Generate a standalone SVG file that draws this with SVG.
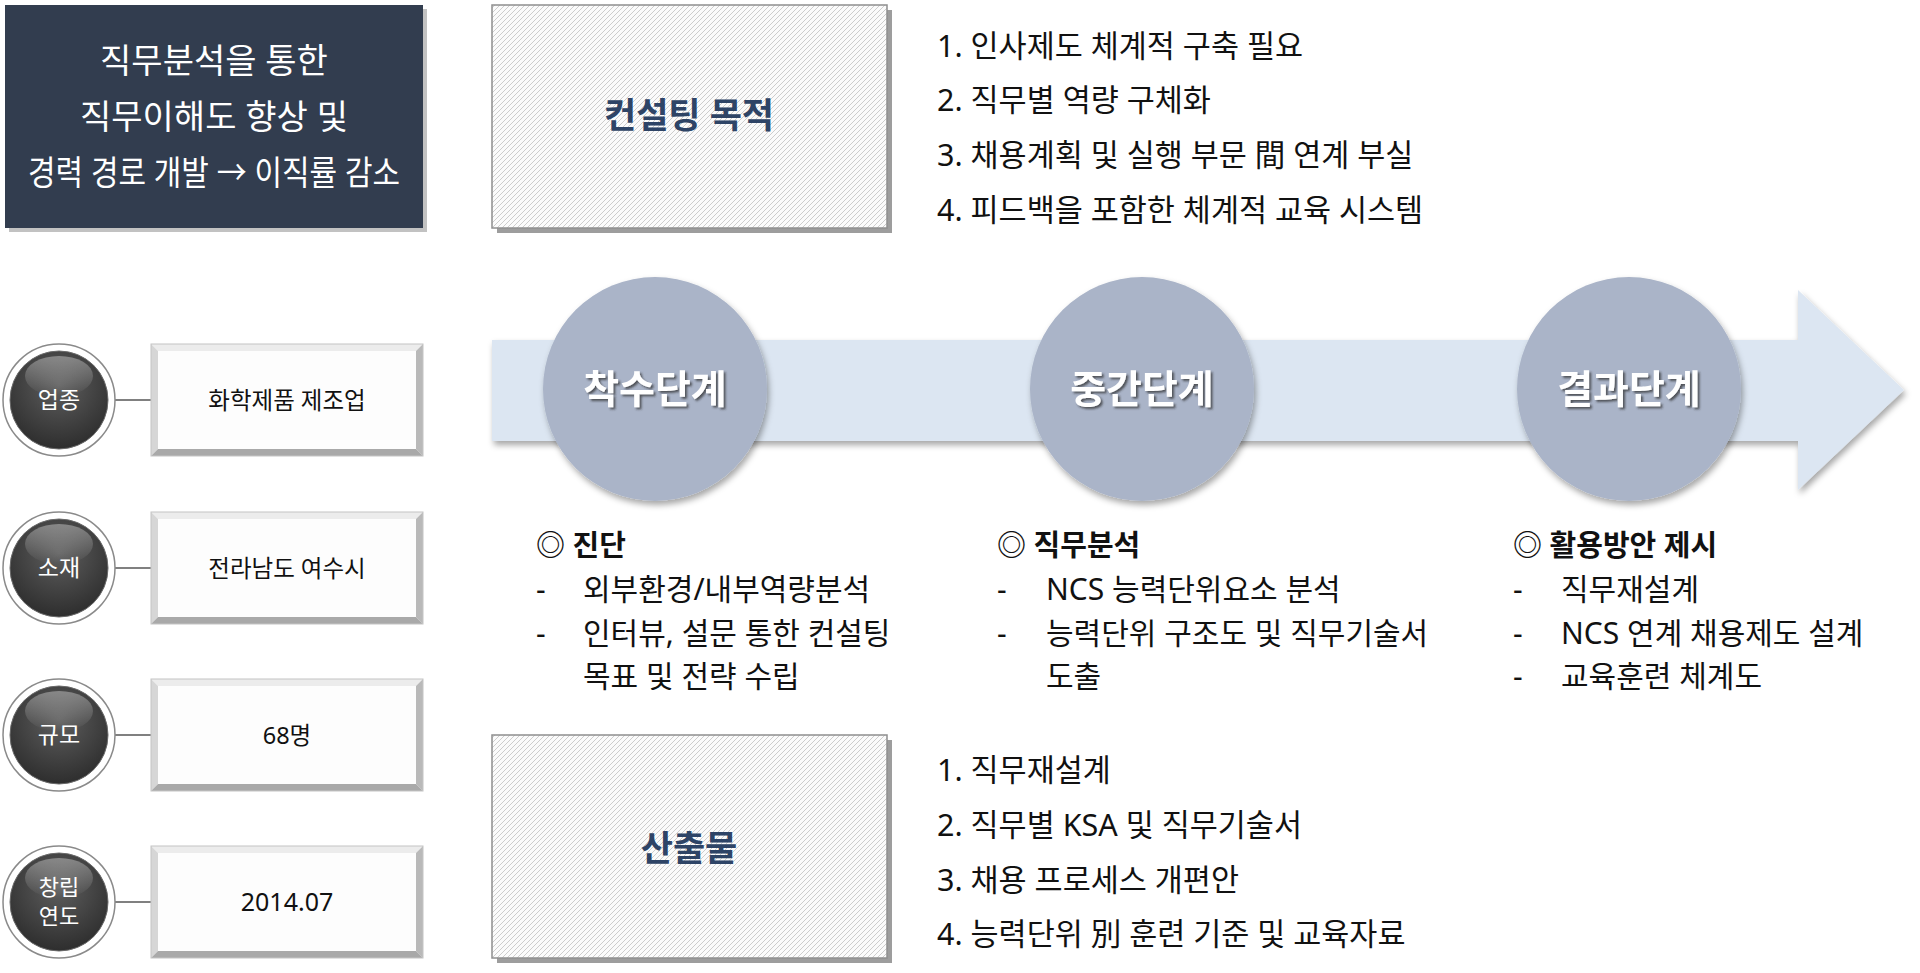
<svg xmlns="http://www.w3.org/2000/svg" xmlns:xlink="http://www.w3.org/1999/xlink" width="1920" height="973" viewBox="0 0 1920 973">
<style>
text{font-family:'Noto Sans','Noto Sans CJK KR',sans-serif}
.title{fill:#ffffff;font-size:34px}
.hbox{fill:#2e4466;font-size:35px;font-weight:700;text-anchor:middle}
.list{fill:#111111;font-size:30.5px}
.stage{fill:#ffffff;font-size:39px;font-weight:700;text-anchor:middle}
.head{fill:#111111;font-size:29px;font-weight:700}
.item{fill:#111111;font-size:30px}
.badge{fill:#ffffff;font-size:23px;text-anchor:middle}
.badge2{fill:#ffffff;font-size:22px;text-anchor:middle}
.val{fill:#111111;font-size:23.5px;text-anchor:middle}
.conn{stroke:#808080;stroke-width:2}
</style>
<defs>
<pattern id="hatch" patternUnits="userSpaceOnUse" width="5" height="5">
<rect width="5" height="5" fill="#fbfbfb"/>
<path d="M0,5 L5,0 M-1,1 L1,-1 M4,6 L6,4" stroke="#cdcdcd" stroke-width="1"/>
</pattern>
<radialGradient id="dark" cx="0.5" cy="0.35" r="0.65">
<stop offset="0" stop-color="#5e5e5e"/>
<stop offset="1" stop-color="#2e2e2e"/>
</radialGradient>
<linearGradient id="shine" x1="0" y1="0" x2="0" y2="1">
<stop offset="0" stop-color="#ffffff" stop-opacity="0.35"/>
<stop offset="1" stop-color="#ffffff" stop-opacity="0"/>
</linearGradient>
<filter id="soft" x="-20%" y="-20%" width="140%" height="150%">
<feDropShadow dx="2" dy="4" stdDeviation="3" flood-color="#000" flood-opacity="0.35"/>
</filter>
<filter id="tshadow" x="-10%" y="-20%" width="120%" height="150%">
<feDropShadow dx="2" dy="2" stdDeviation="1.2" flood-color="#2a2a2a" flood-opacity="0.7"/>
</filter>
<g id="bevel">
<rect x="0" y="0" width="272" height="112" fill="#fdfdfd"/>
<polygon points="0,0 272,0 265,7 7,7" fill="#ececec"/>
<polygon points="0,0 7,7 7,105 0,112" fill="#d6d6d6"/>
<polygon points="272,0 272,112 265,105 265,7" fill="#b9b9b9"/>
<polygon points="0,112 272,112 265,105 7,105" fill="#a9a9a9"/>
<rect x="0" y="0" width="272" height="112" fill="none" stroke="#c4c4c4" stroke-width="1"/>
</g>
<g id="badge">
<circle cx="0" cy="0" r="56" fill="#ffffff" stroke="#8a8a8a" stroke-width="1.5"/>
<circle cx="0" cy="0" r="49" fill="url(#dark)" stroke="#6a6a6a" stroke-width="1"/>
<ellipse cx="0" cy="-24" rx="34" ry="20" fill="url(#shine)"/>
</g>
</defs>

<rect width="1920" height="973" fill="#ffffff"/>

<g id="goal">
<rect x="9" y="9" width="418" height="223" fill="#9a9a9a" opacity="0.6"/>
<rect x="5" y="5" width="418" height="223" fill="#323d4f"/>
<text class="title" x="214" y="73" text-anchor="middle">직무분석을 통한</text>
<text class="title" x="214" y="129" text-anchor="middle">직무이해도 향상 및</text>
<text class="title" x="214" y="185" text-anchor="middle" textLength="372" lengthAdjust="spacingAndGlyphs">경력 경로 개발 → 이직률 감소</text>
</g>

<g id="purpose">
<rect x="497" y="10" width="395" height="223" fill="#9d9d9d"/>
<rect x="492" y="5" width="395" height="223" fill="url(#hatch)" stroke="#8f8f8f" stroke-width="1.5"/>
<text class="hbox" x="689" y="128">컨설팅 목적</text>
</g>

<g id="purpose-list">
<text class="list" x="937" y="57">1. 인사제도 체계적 구축 필요</text>
<text class="list" x="937" y="111">2. 직무별 역량 구체화</text>
<text class="list" x="937" y="166">3. 채용계획 및 실행 부문 間 연계 부실</text>
<text class="list" x="937" y="221">4. 피드백을 포함한 체계적 교육 시스템</text>
</g>

<g id="flow-arrow">
<polygon points="492,340 1798,340 1798,290 1904,390 1798,490 1798,441 492,441" fill="#dce6f2" filter="url(#soft)"/>
</g>

<g id="stage1">
<circle cx="655" cy="389" r="112" fill="#aab4c8" filter="url(#soft)"/>
<text class="stage" x="655" y="403" filter="url(#tshadow)">착수단계</text>
</g>
<g id="stage2">
<circle cx="1142" cy="389" r="112" fill="#aab4c8" filter="url(#soft)"/>
<text class="stage" x="1142" y="403" filter="url(#tshadow)">중간단계</text>
</g>
<g id="stage3">
<circle cx="1629" cy="389" r="112" fill="#aab4c8" filter="url(#soft)"/>
<text class="stage" x="1629" y="403" filter="url(#tshadow)">결과단계</text>
</g>

<g id="stage1-text">
<text class="head" x="536" y="556">◎ 진단</text>
<text class="item" x="536" y="600">-</text>
<text class="item" x="583" y="600">외부환경/내부역량분석</text>
<text class="item" x="536" y="644">-</text>
<text class="item" x="583" y="644">인터뷰, 설문 통한 컨설팅</text>
<text class="item" x="583" y="687">목표 및 전략 수립</text>
</g>
<g id="stage2-text">
<text class="head" x="997" y="556">◎ 직무분석</text>
<text class="item" x="997" y="600">-</text>
<text class="item" x="1046" y="600">NCS 능력단위요소 분석</text>
<text class="item" x="997" y="644">-</text>
<text class="item" x="1046" y="644">능력단위 구조도 및 직무기술서</text>
<text class="item" x="1046" y="687">도출</text>
</g>
<g id="stage3-text">
<text class="head" x="1513" y="556">◎ 활용방안 제시</text>
<text class="item" x="1513" y="600">-</text>
<text class="item" x="1561" y="600">직무재설계</text>
<text class="item" x="1513" y="644">-</text>
<text class="item" x="1561" y="644">NCS 연계 채용제도 설계</text>
<text class="item" x="1513" y="687">-</text>
<text class="item" x="1561" y="687">교육훈련 체계도</text>
</g>

<g id="output">
<rect x="497" y="740" width="395" height="223" fill="#9d9d9d"/>
<rect x="492" y="735" width="395" height="223" fill="url(#hatch)" stroke="#8f8f8f" stroke-width="1.5"/>
<text class="hbox" x="689" y="861">산출물</text>
</g>

<g id="output-list">
<text class="list" x="937" y="781">1. 직무재설계</text>
<text class="list" x="937" y="836">2. 직무별 KSA 및 직무기술서</text>
<text class="list" x="937" y="891">3. 채용 프로세스 개편안</text>
<text class="list" x="937" y="945">4. 능력단위 別 훈련 기준 및 교육자료</text>
</g>

<g id="connectors">
<line class="conn" x1="115" y1="400" x2="151" y2="400"/>
<line class="conn" x1="115" y1="568" x2="151" y2="568"/>
<line class="conn" x1="115" y1="735" x2="151" y2="735"/>
<line class="conn" x1="115" y1="902" x2="151" y2="902"/>
</g>

<g id="industry">
<use xlink:href="#badge" x="59" y="400"/>
<text class="badge" x="59" y="408">업종</text>
<use xlink:href="#bevel" x="151" y="344"/>
<text class="val" x="287" y="409">화학제품 제조업</text>
</g>
<g id="location">
<use xlink:href="#badge" x="59" y="568"/>
<text class="badge" x="59" y="576">소재</text>
<use xlink:href="#bevel" x="151" y="512"/>
<text class="val" x="287" y="577">전라남도 여수시</text>
</g>
<g id="size">
<use xlink:href="#badge" x="59" y="735"/>
<text class="badge" x="59" y="743">규모</text>
<use xlink:href="#bevel" x="151" y="679"/>
<text class="val" x="287" y="744">68명</text>
</g>
<g id="founded">
<use xlink:href="#badge" x="59" y="902"/>
<text class="badge2" x="59" y="895">창립</text>
<text class="badge2" x="59" y="924">연도</text>
<use xlink:href="#bevel" x="151" y="846"/>
<text class="val" x="287" y="911" style="font-size:25px">2014.07</text>
</g>
</svg>
